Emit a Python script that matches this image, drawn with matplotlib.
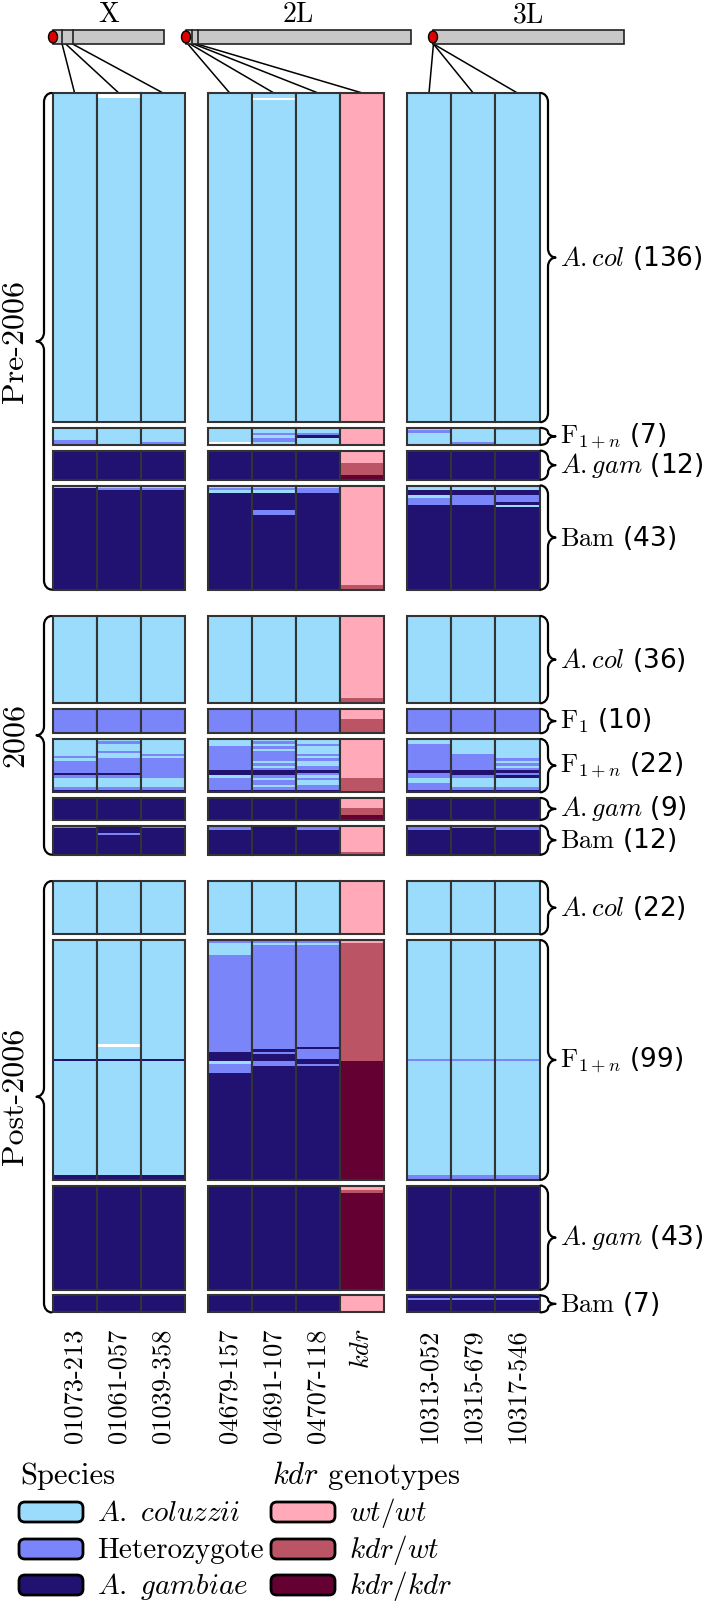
import re
import matplotlib.pyplot as plt
from matplotlib.patches import Rectangle, Ellipse, FancyBboxPatch, PathPatch
from matplotlib.path import Path

plt.rcParams['mathtext.fontset'] = 'cm'
plt.rcParams['font.family'] = ['DejaVu Sans']
SERIF = 'cmr10'

# genotype colours: C coluzzii, H heterozygote, G gambiae, W wt/wt, K kdr/wt, R kdr/kdr, M missing
colours = {'C': '#9bdcfd', 'H': '#7985f8', 'G': '#211170',
           'W': '#ffa9b9', 'K': '#bb5566', 'R': '#650033', 'M': '#ffffff'}

chromosomes = ['X', '2L', '3L']
chrom_length = [24.39, 49.36, 41.96]  # Mb
bar_ticks = [[2.07, 4.46], [1.3, 2.6], []]
markers = [['01073-213', '01061-057', '01039-358'],
           ['04679-157', '04691-107', '04707-118', '$kdr$'],
           ['10313-052', '10315-679', '10317-546']]
marker_pos = [[2.0, 2.8, 4.3], [0.4, 0.9, 1.7, 2.4], [0.1, 0.1, 0.1]]

periods = ['Pre-2006', '2006', 'Post-2006']
group_labels = [[r'$A{.}col$', r'$\mathrm{F}_{1+n}$', r'$A{.}gam$', r'$\mathrm{Bam}$'],
                [r'$A{.}col$', r'$\mathrm{F}_{1}$', r'$\mathrm{F}_{1+n}$', r'$A{.}gam$', r'$\mathrm{Bam}$'],
                [r'$A{.}col$', r'$\mathrm{F}_{1+n}$', r'$A{.}gam$', r'$\mathrm{Bam}$']]
group_counts = [[136, 7, 12, 43], [36, 10, 22, 9, 12], [22, 99, 43, 7]]

# run-length genotype strings, one per column (X x3, 2L x3, kdr, 3L x3), top to bottom
pre_acol = ['C136', 'M2C134', 'C136', 'C136', 'C2M1C133', 'C136', 'W136', 'C136', 'C136', 'C136']
pre_f1n = ['C5H2', 'C7', 'C6H1', 'C6M1', 'C2H1C1H2C1', 'C2H1G1C3', 'W7', 'C1H1C5', 'C6H1', 'H1C6']
pre_agam = ['G12', 'G12', 'G12', 'G12', 'G12', 'G12', 'W5K5R2', 'G12', 'G12', 'G12']
pre_bam = ['C1G42', 'C1H1G41', 'C1H1G41', 'C1H1C1G40', 'C1H1C1G7H2G31', 'C1H2G40', 'W41K2',
           'C2G2C1H3G35', 'C2G2H4G35', 'C2G2H3G1C1G34']

y06_acol = ['C36', 'C36', 'C36', 'C36', 'C36', 'C36', 'W34K2', 'C36', 'C36', 'C36']
y06_f1 = ['H10', 'H10', 'H10', 'H10', 'H10', 'H10', 'W4K6', 'H10', 'H10', 'H10']
y06_f1n = ['C7H1C1H5G1H1C4H1G1', 'C1H1C3H1C2H6G1H1C4H1G1', 'C6H1C1H8C4H1G1', 'C3H10G2C1H5G1',
           'C1H1C1H1C1H4C1H1C1H1G2H1C1H2C1H1G1', 'C2H1C3H1C1H1C2H2G1H1C1H1C2H2G1', 'W16K6',
           'C2H11G1H2C2H3G1', 'C6H7G2H1C4H1G1', 'C8H1C1H1C1H1G1H1G1C4H1G1']
y06_agam = ['G9', 'G9', 'G9', 'G9', 'G9', 'G9', 'W4K3R2', 'G9', 'G9', 'G9']
y06_bam = ['H1G11', 'G3H1G8', 'H1G11', 'H2G10', 'G12', 'H2G10', 'W11K1', 'H2G10', 'H1G11', 'H2G10']

post_acol = ['C22', 'C22', 'C22', 'C22', 'C22', 'C22', 'W22', 'C22', 'C22', 'C22']
post_f1n = ['C49G1C47G2', 'C43M1C5G1C47G2', 'C49G1C47G2', 'H1C5H40G4C1H4G44',
            'H1C1H43G1H1G3H2G47', 'H1C1H42G1H4G2H1G47', 'W1K49R49',
            'C49H1C47H2', 'C49H1C47H2', 'C49H1C47H2']
post_agam = ['G43', 'G43', 'G43', 'G43', 'G43', 'G43', 'W2K1R40', 'G43', 'G43', 'G43']
post_bam = ['G7', 'G7', 'G7', 'G7', 'G7', 'G7', 'W7', 'G1H1G5', 'G1H1G5', 'G1H1G5']

genotypes = [[pre_acol, pre_f1n, pre_agam, pre_bam],
             [y06_acol, y06_f1, y06_f1n, y06_agam, y06_bam],
             [post_acol, post_f1n, post_agam, post_bam]]

# legend entries
species_codes = ['C', 'H', 'G']
species_labels = [r'$A.\ coluzzii$', 'Heterozygote', r'$A.\ gambiae$']
kdr_codes = ['W', 'K', 'R']
kdr_labels = [r'$wt/wt$', r'$kdr/wt$', r'$kdr/kdr$']

# layout (pixels)
ROW_H, BLOCK_GAP, PERIOD_GAP, TOP = 2.42, 5.8, 26.5, 93
COL_W, GROUP_GAP, LEFT = 44.2, 22.5, 52.5
BAR_Y0, BAR_H, MB_PX = 30, 14, 4.55
bar_x0 = [53, 186, 433]


def runs(code):
    return [(g, int(n)) for g, n in re.findall(r'([A-Z])(\d+)', code)]


def brace(ax, x, y0, y1, w, facing):
    r = w / 2
    ym = (y0 + y1) / 2
    rv = min(r * 1.2, (y1 - y0) / 4)
    k = 0.552
    s = facing
    verts = [(x, y0),
             (x + s * k * r, y0), (x + s * r, y0 + rv - k * rv), (x + s * r, y0 + rv),
             (x + s * r, ym - rv),
             (x + s * r, ym - rv + k * rv), (x + s * (2 * r - k * r), ym), (x + s * 2 * r, ym),
             (x + s * (2 * r - k * r), ym), (x + s * r, ym + rv - k * rv), (x + s * r, ym + rv),
             (x + s * r, y1 - rv),
             (x + s * r, y1 - rv + k * rv), (x + s * k * r, y1), (x, y1)]
    codes = [Path.MOVETO] + [Path.CURVE4] * 3 + [Path.LINETO] + [Path.CURVE4] * 6 + \
            [Path.LINETO] + [Path.CURVE4] * 3
    ax.add_patch(PathPatch(Path(verts, codes), fill=False, lw=1.6, edgecolor='black',
                           capstyle='round', joinstyle='round'))


fig = plt.figure(figsize=(7.09, 16.01), dpi=100)
ax = fig.add_axes([0, 0, 1, 1])
ax.set_xlim(0, 709)
ax.set_ylim(1601, 0)
ax.axis('off')

# column x positions
col_x = []
x = LEFT
for names in markers:
    for name in names:
        col_x.append(x)
        x += COL_W
    x += GROUP_GAP
right_edge = col_x[-1] + COL_W

# chromosome schematics
ci = 0
for i, chrom in enumerate(chromosomes):
    x0 = bar_x0[i]
    for j, pos in enumerate(marker_pos[i]):
        ax.plot([x0 + pos * MB_PX, col_x[ci] + COL_W / 2], [BAR_Y0 + BAR_H, TOP],
                color='black', lw=1.1, zorder=1)
        ci += 1
    ax.add_patch(Rectangle((x0, BAR_Y0), chrom_length[i] * MB_PX, BAR_H,
                           facecolor='#c8c8c8', edgecolor='#222222', lw=1.2, zorder=2))
    for t in bar_ticks[i]:
        ax.plot([x0 + t * MB_PX] * 2, [BAR_Y0, BAR_Y0 + BAR_H], color='#222222', lw=1.2, zorder=3)
    ax.add_patch(Ellipse((x0, BAR_Y0 + BAR_H / 2), 9, 12, facecolor='#dd0000',
                         edgecolor='black', lw=1, zorder=4))
    ax.text(x0 + chrom_length[i] * MB_PX / 2, 15, chrom, ha='center', va='center',
            fontsize=20, family=SERIF)

# genotype blocks
y = TOP
for p, period in enumerate(periods):
    y_start = y
    for lab, n, cols in zip(group_labels[p], group_counts[p], genotypes[p]):
        h = n * ROW_H
        for c, code in enumerate(cols):
            yy = y
            for g, k in runs(code):
                ax.add_patch(Rectangle((col_x[c], yy), COL_W, k * ROW_H,
                                       facecolor=colours[g], lw=0))
                yy += k * ROW_H
            ax.add_patch(Rectangle((col_x[c], y), COL_W, h, fill=False,
                                   edgecolor='#333333', lw=1.5))
        brace(ax, right_edge + 1, y, y + h, 15, +1)
        ax.text(right_edge + 21, y + h / 2, f'{lab} ({n})', ha='left', va='center', fontsize=19)
        y += h + BLOCK_GAP
    y_end = y - BLOCK_GAP
    brace(ax, LEFT - 1, y_start, y_end, 15, -1)
    ax.text(15, (y_start + y_end) / 2, period, rotation=90, ha='center', va='center',
            fontsize=23, family=SERIF)
    y = y_end + PERIOD_GAP

# column labels
ci = 0
for names in markers:
    for name in names:
        ax.text(col_x[ci] + COL_W / 2, y - PERIOD_GAP + 16, name, rotation=90,
                ha='center', va='top', fontsize=19, family=SERIF)
        ci += 1

# legends (title + rounded swatches)
LEG_TITLE_BASE = 1484
LEG_ROWS = [1512, 1549, 1585]
for title, codes, labels, lx in [('Species', species_codes, species_labels, 19),
                                 (r'$kdr$ genotypes', kdr_codes, kdr_labels, 271)]:
    ax.text(lx + 1, LEG_TITLE_BASE, title, ha='left', va='baseline', fontsize=22, family=SERIF)
    for yc, g, lab in zip(LEG_ROWS, codes, labels):
        ax.add_patch(FancyBboxPatch((lx, yc - 10), 64, 20,
                                    boxstyle='round,pad=0,rounding_size=6',
                                    facecolor=colours[g], edgecolor='black', lw=2))
        ax.text(lx + 78, yc + 9, lab, ha='left', va='baseline', fontsize=21, family=SERIF)

fig.savefig('out.png', dpi=100)
